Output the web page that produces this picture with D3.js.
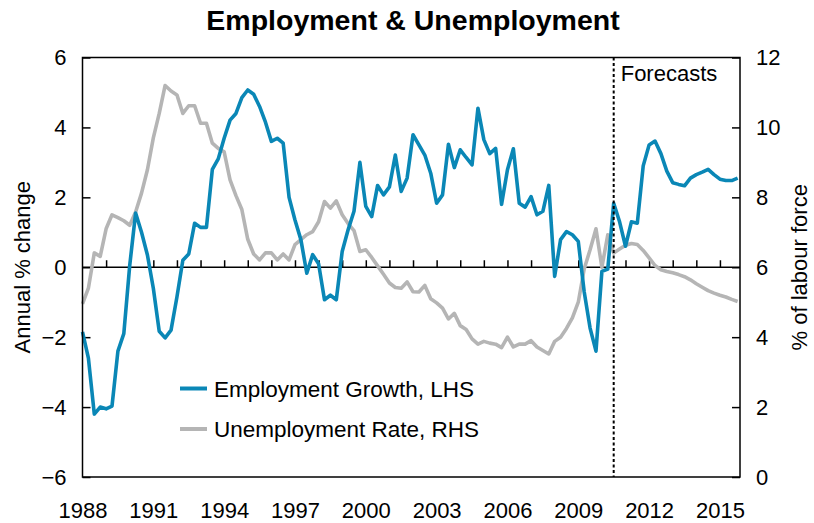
<!DOCTYPE html>
<html>
<head>
<meta charset="utf-8">
<script src="https://cdn.jsdelivr.net/npm/d3@7"></script>
<style>
  body { margin: 0; background: #fff; }
  text { font-family: Arial, "Liberation Sans", sans-serif; fill: #000; }
</style>
</head>
<body>
<div id="chart"></div>
<script>
// quarterly data, first quarter of 1988 onwards
const startYear = 1988;
const employmentGrowth = [
  -1.85, -2.6, -4.2, -4.0, -4.05, -3.97, -2.4, -1.9, 0.05, 1.55,
  1.0, 0.35, -0.6, -1.83, -2.02, -1.8, -0.85, 0.2, 0.38, 1.26,
  1.14, 1.14, 2.8, 3.1, 3.69, 4.21, 4.4, 4.85, 5.07, 4.95,
  4.6, 4.15, 3.6, 3.69, 3.55, 2.0, 1.35, 0.79, -0.17, 0.36,
  0.1, -0.93, -0.8, -0.93, 0.45, 1.07, 1.6, 3.0, 1.74, 1.45,
  2.34, 2.07, 2.3, 3.21, 2.17, 2.55, 3.79, 3.5, 3.21, 2.69,
  1.83, 2.07, 3.52, 2.85, 3.36, 3.14, 2.93, 4.55, 3.65, 3.25,
  3.4, 1.8, 2.79, 3.39, 1.83, 1.72, 2.02, 1.5, 1.6, 2.34,
  -0.26, 0.79, 1.02, 0.93, 0.74, -0.7, -1.74, -2.4, -0.12, -0.05,
  1.83, 1.3, 0.6, 1.3, 1.26, 2.9, 3.5, 3.61, 3.25, 2.75,
  2.42, 2.37, 2.33, 2.55, 2.65, 2.72, 2.8, 2.65, 2.52, 2.48,
  2.48, 2.55
];
const unemploymentRate = [
  4.95, 5.4, 6.41, 6.31, 7.1, 7.5, 7.42, 7.33, 7.2, 7.58,
  8.12, 8.79, 9.7, 10.4, 11.2, 11.04, 10.93, 10.4, 10.62, 10.62,
  10.12, 10.12, 9.55, 9.4, 9.3, 8.5, 8.05, 7.65, 6.8, 6.38,
  6.21, 6.41, 6.41, 6.21, 6.38, 6.21, 6.65, 6.79, 6.93, 7.02,
  7.3, 7.88, 7.69, 7.9, 7.5, 7.25, 7.05, 6.45, 6.5, 6.28,
  6.04, 5.8, 5.55, 5.42, 5.4, 5.58, 5.3, 5.29, 5.48, 5.1,
  4.98, 4.83, 4.52, 4.68, 4.33, 4.22, 3.95, 3.8, 3.88, 3.83,
  3.8, 3.7, 4.0, 3.72, 3.8, 3.8, 3.9, 3.72, 3.62, 3.52,
  3.88, 4.0, 4.25, 4.55, 5.0, 5.95, 6.5, 7.1, 6.0, 6.93,
  6.41, 6.52, 6.63, 6.68, 6.65, 6.48, 6.27, 6.05, 5.93, 5.88,
  5.84, 5.79, 5.73, 5.64, 5.53, 5.43, 5.33, 5.26, 5.2, 5.15,
  5.08, 5.02
];
const forecastStart = 2010.5;
const leftTicks = [-6, -4, -2, 0, 2, 4, 6];
const rightTicks = [0, 2, 4, 6, 8, 10, 12];
const yearLabels = [1988, 1991, 1994, 1997, 2000, 2003, 2006, 2009, 2012, 2015];
const seriesNames = ["Employment Growth, LHS", "Unemployment Rate, RHS"];

const W = 814, H = 523;
const margin = {top: 57.5, right: 74, bottom: 46, left: 82.5};
const colBlue = "#0a87b6", colGrey = "#b5b5b5";

const svg = d3.select("#chart").append("svg")
  .attr("width", W).attr("height", H);

const x = d3.scaleLinear().domain([1988, 2015.85]).range([margin.left, W - margin.right]);
const yL = d3.scaleLinear().domain([-6, 6]).range([H - margin.bottom, margin.top]);
const yR = d3.scaleLinear().domain([0, 12]).range([H - margin.bottom, margin.top]);

const dates = employmentGrowth.map((d, i) => startYear + i / 4);

// title
svg.append("text")
  .attr("x", 413).attr("y", 30)
  .attr("text-anchor", "middle")
  .style("font-size", "28.5px").style("font-weight", "bold")
  .text("Employment & Unemployment");

// left axis
const gL = svg.append("g")
  .attr("transform", `translate(${margin.left},0)`)
  .call(d3.axisLeft(yL).tickValues(leftTicks).tickSizeInner(-8).tickSizeOuter(0).tickPadding(16));
// right axis
const gR = svg.append("g")
  .attr("transform", `translate(${W - margin.right},0)`)
  .call(d3.axisRight(yR).tickValues(rightTicks).tickSizeInner(-8).tickSizeOuter(0).tickPadding(16));

// year ticks on the zero line
const gX = svg.append("g")
  .attr("transform", `translate(0,${yL(0)})`)
  .call(d3.axisBottom(x).tickValues(d3.range(1989, 2016)).tickSizeInner(-7).tickSizeOuter(0).tickFormat(""));
// year labels at the bottom
const gXL = svg.append("g")
  .attr("transform", `translate(0,${H - margin.bottom})`)
  .call(d3.axisBottom(x).tickValues(yearLabels).tickSize(0).tickPadding(25).tickFormat(d3.format("d")));

[gL, gR, gX, gXL].forEach(g => {
  g.select(".domain").remove();
  g.selectAll("line").attr("stroke", "#000").attr("stroke-width", 1.5);
  g.selectAll("text").style("font-size", "22px").attr("fill", "#000");
});

// zero line
svg.append("line")
  .attr("x1", margin.left).attr("x2", W - margin.right)
  .attr("y1", yL(0)).attr("y2", yL(0))
  .attr("stroke", "#000").attr("stroke-width", 1.5);

// lines
const lineL = d3.line().x((d, i) => x(dates[i])).y(d => yL(d));
const lineR = d3.line().x((d, i) => x(dates[i])).y(d => yR(d));

svg.append("path").datum(unemploymentRate)
  .attr("d", lineR).attr("fill", "none")
  .attr("stroke", colGrey).attr("stroke-width", 3.6).attr("stroke-linejoin", "round");
svg.append("path").datum(employmentGrowth)
  .attr("d", lineL).attr("fill", "none")
  .attr("stroke", colBlue).attr("stroke-width", 3.6).attr("stroke-linejoin", "round");

// forecast divider
svg.append("line")
  .attr("x1", x(forecastStart)).attr("x2", x(forecastStart))
  .attr("y1", margin.top).attr("y2", H - margin.bottom)
  .attr("stroke", "#000").attr("stroke-width", 2).attr("stroke-dasharray", "3,2.5");
svg.append("text")
  .attr("x", x(forecastStart) + 7).attr("y", 81)
  .style("font-size", "22px")
  .text("Forecasts");

// frame
svg.append("rect")
  .attr("x", margin.left).attr("y", margin.top)
  .attr("width", W - margin.left - margin.right)
  .attr("height", H - margin.top - margin.bottom)
  .attr("fill", "none").attr("stroke", "#000").attr("stroke-width", 1.5);

// axis titles
svg.append("text")
  .attr("transform", `translate(30,${yL(0)}) rotate(-90)`)
  .attr("text-anchor", "middle")
  .style("font-size", "22px")
  .text("Annual % change");
svg.append("text")
  .attr("transform", `translate(807,${yL(0)}) rotate(-90)`)
  .attr("text-anchor", "middle")
  .style("font-size", "22px")
  .text("% of labour force");

// legend
const legend = svg.append("g");
[colBlue, colGrey].forEach((c, i) => {
  const ly = 388.5 + i * 40.5;
  legend.append("line")
    .attr("x1", 180).attr("x2", 207)
    .attr("y1", ly).attr("y2", ly)
    .attr("stroke", c).attr("stroke-width", 4);
  legend.append("text")
    .attr("x", 214).attr("y", ly + 8)
    .style("font-size", "22.5px")
    .text(seriesNames[i]);
});
</script>
</body>
</html>
